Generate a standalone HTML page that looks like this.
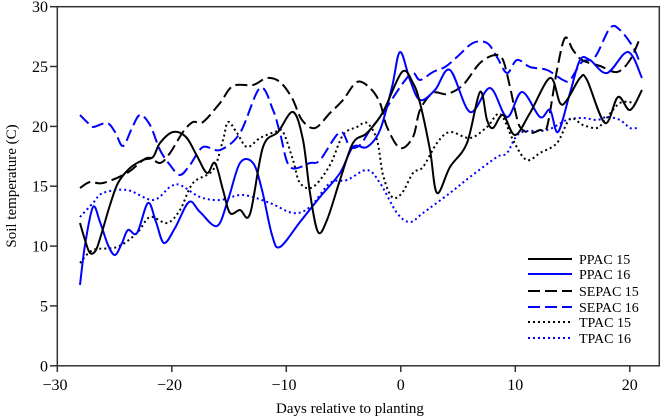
<!DOCTYPE html>
<html>
<head>
<meta charset="utf-8">
<style>
html,body{margin:0;padding:0;background:#fff;}
svg{display:block;}
text{font-family:"Liberation Serif","Times New Roman",serif;fill:#000;}
</style>
</head>
<body>
<svg id="chart" width="666" height="419" viewBox="0 0 666 419" xmlns="http://www.w3.org/2000/svg">
<rect x="0" y="0" width="666" height="419" fill="#fff"/>
<g fill="none" stroke-linejoin="round" stroke-linecap="butt">
<!-- TPAC 16 -->
<polyline class="s" stroke="#0000ff" stroke-width="2" stroke-dasharray="2,3" points="80,217 93,203 103,193 127,190 153,200 170,187 180,185 200,197 220,200 243,195 270,203 293,213 310,207 330,183 347,180 367,170 380,183 397,213 410,222 423,213 450,193 470,177 497,157 507,153 520,133 547,130 567,120 583,118 597,120 607,117 620,120 630,128 637,128"/>
<!-- TPAC 15 -->
<polyline class="s" stroke="#000" stroke-width="2" stroke-dasharray="2,3" points="80,263 93,250 117,247 137,233 150,217 167,223 180,210 193,183 213,170 223,140 228,122 237,133 247,147 260,138 275,132 283,132 293,160 300,183 313,187 330,165 343,135 357,127 367,123 377,140 383,175 392,197 402,193 413,173 423,167 437,143 450,132 470,138 487,127 500,114 513,140 523,157 530,160 540,153 557,143 570,119 583,125 597,128 605,120 620,103 635,103"/>
<!-- SEPAC 16 -->
<polyline class="s" stroke="#0000ff" stroke-width="2" stroke-dasharray="12,5" points="80,115 87,122 93,127 107,123 115,132 123,146 132,128 140,115 150,125 160,150 170,165 180,175 190,165 203,147 220,150 240,133 260,88 273,110 280,133 290,167 310,163 320,160 340,132 350,147 360,145 370,130 383,113 403,83 413,73 420,80 433,72 445,67 457,57 473,43 487,43 497,57 507,73 517,60 530,67 547,70 563,80 570,80 582,62 595,57 610,28 620,30 633,47 640,63"/>
<!-- SEPAC 15 -->
<polyline class="s" stroke="#000" stroke-width="2" stroke-dasharray="12,5" points="80,188 90,182 103,183 127,173 147,158 160,163 170,153 183,132 193,122 203,122 220,103 233,86 253,85 267,78 280,82 292,98 302,120 315,128 330,113 343,100 357,82 370,88 380,103 387,127 400,148 413,137 420,110 433,93 447,94 463,85 480,63 495,55 503,60 510,87 515,110 520,127 530,133 540,130 547,127 557,70 565,38 573,50 582,60 600,66 617,72 630,60 640,38"/>
<!-- PPAC 16 -->
<polyline class="s" stroke="#0000ff" stroke-width="2" points="80,285 85,245 93,207 100,222 108,245 115,255 122,243 128,230 137,233 148,203 156,222 164,243 175,228 189,202 200,212 217,226 228,200 240,163 253,163 262,190 272,235 280,247 300,222 320,197 340,173 353,147 367,147 380,130 392,87 400,52 410,80 420,100 435,90 450,70 470,112 490,88 507,117 522,92 540,117 550,110 558,132 570,93 580,60 590,60 607,73 628,52 642,78"/>
<!-- PPAC 15 -->
<polyline class="s" stroke="#000" stroke-width="2" points="80,223 85,240 90,253 96,250 102,232 110,205 118,183 130,168 143,160 153,157 160,143 173,132 186,137 197,156 207,173 215,163 223,190 230,213 240,210 250,214 263,147 278,132 293,112 303,140 310,193 318,232 327,220 340,180 353,143 367,133 383,112 402,72 413,83 420,103 430,150 437,193 450,167 467,143 480,92 487,120 493,128 503,115 515,135 530,113 550,78 560,103 567,100 580,78 587,80 605,123 618,97 630,110 642,90"/>
</g>
<!-- frame -->
<rect x="57.3" y="6.7" width="602" height="359.1" fill="none" stroke="#333" stroke-width="1.5"/>
<!-- ticks -->
<g stroke="#333" stroke-width="1.5">
<line x1="50" y1="365.8" x2="57.3" y2="365.8"/>
<line x1="50" y1="305.9" x2="57.3" y2="305.9"/>
<line x1="50" y1="246.1" x2="57.3" y2="246.1"/>
<line x1="50" y1="186.2" x2="57.3" y2="186.2"/>
<line x1="50" y1="126.4" x2="57.3" y2="126.4"/>
<line x1="50" y1="66.5" x2="57.3" y2="66.5"/>
<line x1="50" y1="6.7" x2="57.3" y2="6.7"/>
<line x1="57.3" y1="365.8" x2="57.3" y2="372"/>
<line x1="171.8" y1="365.8" x2="171.8" y2="372"/>
<line x1="286.3" y1="365.8" x2="286.3" y2="372"/>
<line x1="400.8" y1="365.8" x2="400.8" y2="372"/>
<line x1="515.3" y1="365.8" x2="515.3" y2="372"/>
<line x1="629.8" y1="365.8" x2="629.8" y2="372"/>
</g>
<g font-size="16" text-anchor="end">
<text x="48" y="371.3">0</text>
<text x="48" y="311.4">5</text>
<text x="48" y="251.6">10</text>
<text x="48" y="191.7">15</text>
<text x="48" y="131.9">20</text>
<text x="48" y="72">25</text>
<text x="48" y="12.2">30</text>
</g>
<g font-size="16" text-anchor="middle">
<text x="55" y="390">−30</text>
<text x="169.5" y="390">−20</text>
<text x="284" y="390">−10</text>
<text x="400.8" y="390">0</text>
<text x="515.3" y="390">10</text>
<text x="629.8" y="390">20</text>
</g>
<text x="350" y="413" font-size="15" text-anchor="middle">Days relative to planting</text>
<text transform="translate(16,186) rotate(-90)" font-size="15" text-anchor="middle">Soil temperature (C)</text>
<!-- legend -->
<g fill="none" stroke-width="2">
<line x1="528" y1="259" x2="572" y2="259" stroke="#000"/>
<line x1="528" y1="274" x2="572" y2="274" stroke="#0000ff"/>
<line x1="528" y1="291" x2="572" y2="291" stroke="#000" stroke-dasharray="12,5"/>
<line x1="528" y1="307" x2="572" y2="307" stroke="#0000ff" stroke-dasharray="12,5"/>
<line x1="528" y1="322" x2="572" y2="322" stroke="#000" stroke-dasharray="2,3"/>
<line x1="528" y1="338" x2="572" y2="338" stroke="#0000ff" stroke-dasharray="2,3"/>
</g>
<g font-size="14">
<text x="579" y="264">PPAC 15</text>
<text x="579" y="279">PPAC 16</text>
<text x="579" y="296">SEPAC 15</text>
<text x="579" y="312">SEPAC 16</text>
<text x="579" y="327">TPAC 15</text>
<text x="579" y="343">TPAC 16</text>
</g>
</svg>
<script>
(function(){
  try{
    var NS="http://www.w3.org/2000/svg";
    var pls=document.querySelectorAll("polyline.s");
    for(var k=0;k<pls.length;k++){
      var pl=pls[k];
      var raw=pl.getAttribute("points").trim().split(/\s+/);
      var p=raw.map(function(s){var a=s.split(",");return [parseFloat(a[0]),parseFloat(a[1])];});
      var n=p.length;
      var d="M"+p[0][0]+","+p[0][1];
      for(var i=0;i<n-1;i++){
        var p0=p[i>0?i-1:i],p1=p[i],p2=p[i+1],p3=p[i+2<n?i+2:i+1];
        var c1x=p1[0]+(p2[0]-p0[0])/6,c1y=p1[1]+(p2[1]-p0[1])/6;
        var c2x=p2[0]-(p3[0]-p1[0])/6,c2y=p2[1]-(p3[1]-p1[1])/6;
        d+=" C"+c1x.toFixed(2)+","+c1y.toFixed(2)+" "+c2x.toFixed(2)+","+c2y.toFixed(2)+" "+p2[0]+","+p2[1];
      }
      var path=document.createElementNS(NS,"path");
      path.setAttribute("d",d);
      ["stroke","stroke-width","stroke-dasharray"].forEach(function(a){var v=pl.getAttribute(a);if(v)path.setAttribute(a,v);});
      path.setAttribute("fill","none");
      pl.parentNode.replaceChild(path,pl);
    }
  }catch(e){}
})();
</script>
</body>
</html>
